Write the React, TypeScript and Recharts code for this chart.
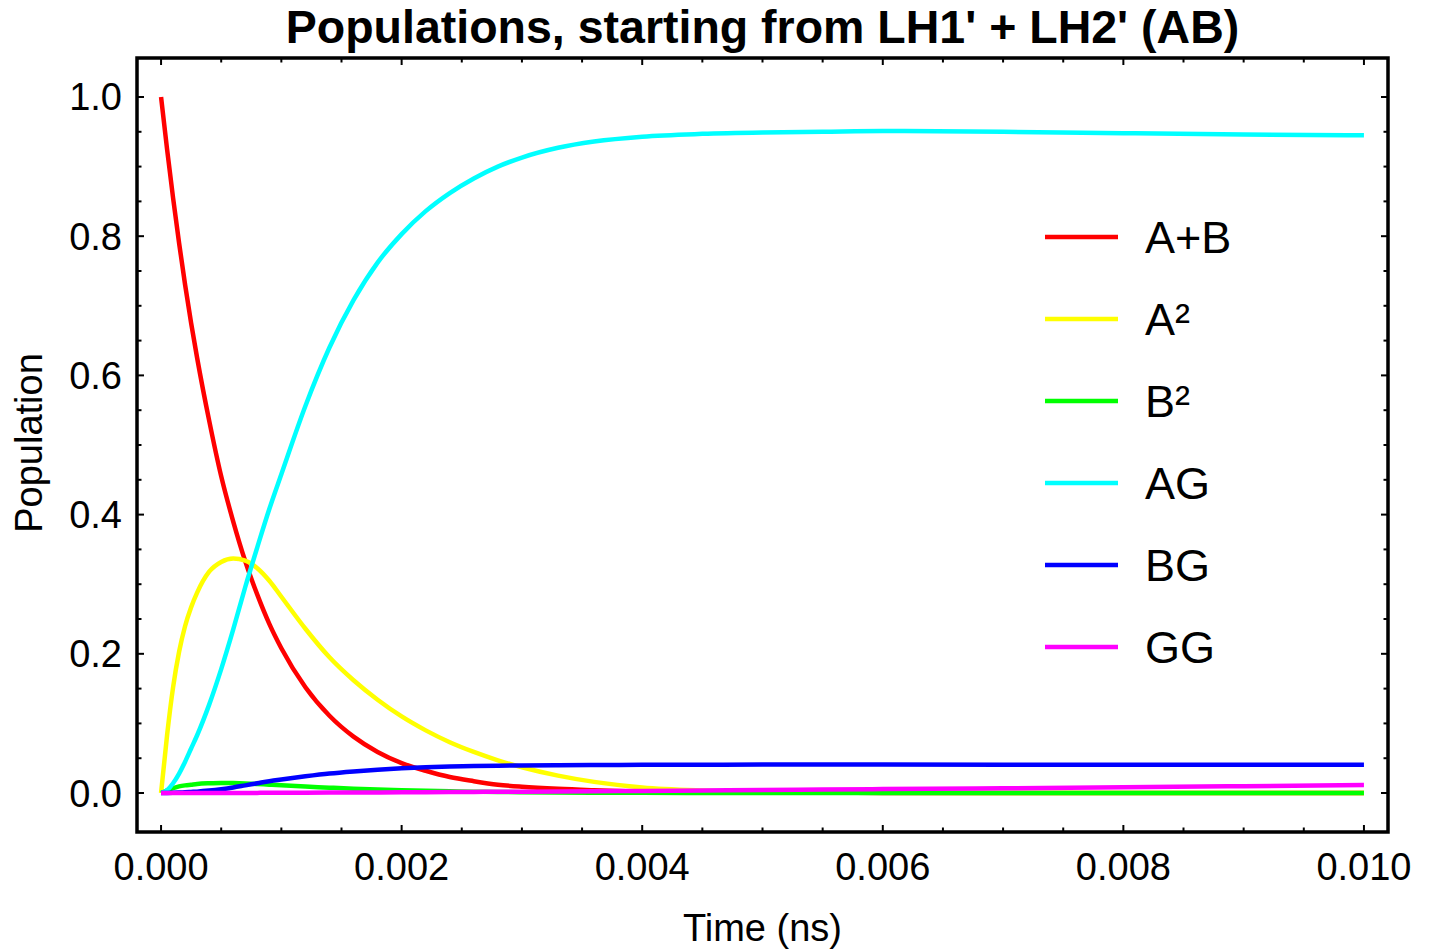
import { LineChart, Line, XAxis, YAxis, ReferenceArea, Legend } from 'recharts';

// time samples (ns) and populations
const times = [
  0, 0.00005, 0.0001, 0.00015, 0.0002, 0.00025, 0.0003, 0.0004, 0.0005, 0.0006, 0.0007, 0.0008, 0.0009,
  0.001, 0.0012, 0.0014, 0.0016, 0.0018, 0.002, 0.0022, 0.0024, 0.0026, 0.0028, 0.003, 0.0033,
  0.0036, 0.004, 0.0045, 0.005, 0.0055, 0.006, 0.007, 0.008, 0.009, 0.01,
];

const abPop = [
  1.0, 0.925, 0.855, 0.79, 0.73, 0.675, 0.625, 0.535, 0.455, 0.39, 0.333, 0.285, 0.243,
  0.208, 0.152, 0.111, 0.081, 0.059, 0.043, 0.032, 0.023, 0.017, 0.012, 0.009, 0.006,
  0.004, 0.002, 0.001, 0.0005, 0.0003, 0.0002, 0.0001, 0, 0, 0,
];

const a2Pop = [
  0, 0.083, 0.152, 0.203, 0.24, 0.267, 0.288, 0.318, 0.332, 0.337, 0.334, 0.323, 0.305,
  0.282, 0.236, 0.195, 0.162, 0.134, 0.11, 0.09, 0.073, 0.059, 0.047, 0.037, 0.025,
  0.016, 0.008, 0.0035, 0.0015, 0.001, 0.0005, 0.0002, 0.0001, 0, 0,
];

const b2Pop = [
  0, 0.004, 0.007, 0.0095, 0.011, 0.012, 0.013, 0.014, 0.0145, 0.0143, 0.0138, 0.013, 0.012,
  0.011, 0.0093, 0.0077, 0.0062, 0.005, 0.004, 0.0032, 0.0025, 0.002, 0.0015, 0.0012, 0.0008,
  0.0005, 0.0003, 0.0001, 0, 0, 0, 0, 0, 0, 0,
];

const agPop = [
  0, 0.004, 0.014, 0.028, 0.045, 0.064, 0.083, 0.127, 0.178, 0.235, 0.296, 0.353, 0.408,
  0.458, 0.556, 0.64, 0.708, 0.762, 0.803, 0.836, 0.862, 0.883, 0.9, 0.913, 0.927,
  0.936, 0.943, 0.947, 0.949, 0.95, 0.951, 0.95, 0.948, 0.946, 0.945,
];

const bgPop = [
  0, 0.0001, 0.0003, 0.0006, 0.001, 0.0015, 0.002, 0.0035, 0.0055, 0.008, 0.011, 0.014, 0.017,
  0.0195, 0.024, 0.028, 0.031, 0.0335, 0.0355, 0.037, 0.038, 0.0387, 0.0392, 0.0396, 0.04,
  0.0403, 0.0405, 0.0407, 0.0408, 0.0408, 0.0408, 0.0407, 0.0406, 0.0405, 0.0405,
];

const ggPop = [
  0, 0, 0, 0, 0, 0, 0, 0.0001, 0.0001, 0.0001, 0.0002, 0.0002, 0.0003,
  0.0003, 0.0004, 0.0006, 0.0007, 0.0009, 0.001, 0.0012, 0.0014, 0.0016, 0.0018, 0.002, 0.0023,
  0.0026, 0.003, 0.0037, 0.0045, 0.005, 0.0056, 0.0068, 0.0082, 0.0098, 0.0115,
];

const seriesKeys = ['ab', 'a2', 'b2', 'ag', 'bg', 'gg'];
const seriesNames = ['A+B', 'A²', 'B²', 'AG', 'BG', 'GG'];
const seriesColors = ['#ff0000', '#ffff00', '#00ff00', '#00ffff', '#0000ff', '#ff00ff'];

const xMajorTicks = [0, 0.002, 0.004, 0.006, 0.008, 0.01];
const xMinorTicks = [
  0, 0.0005, 0.001, 0.0015, 0.002, 0.0025, 0.003, 0.0035, 0.004, 0.0045, 0.005,
  0.0055, 0.006, 0.0065, 0.007, 0.0075, 0.008, 0.0085, 0.009, 0.0095, 0.01,
];
const yMajorTicks = [0, 0.2, 0.4, 0.6, 0.8, 1.0];
const yMinorTicks = [
  0, 0.05, 0.1, 0.15, 0.2, 0.25, 0.3, 0.35, 0.4, 0.45, 0.5,
  0.55, 0.6, 0.65, 0.7, 0.75, 0.8, 0.85, 0.9, 0.95, 1.0,
];

const xDomain = [-0.0002, 0.0102];
const yDomain = [-0.056, 1.056];

const title = "Populations, starting from LH1' + LH2' (AB)";
const xLabel = 'Time (ns)';
const yLabel = 'Population';

const data = times.map((t, i) => ({
  t,
  ab: abPop[i],
  a2: a2Pop[i],
  b2: b2Pop[i],
  ag: agPop[i],
  bg: bgPop[i],
  gg: ggPop[i],
}));

const FONT = '"Liberation Sans", Arial, sans-serif';
const MAJOR_LEN = 7;
const MINOR_LEN = 4.5;

// inward tick marks; labels only on the major ticks of bottom/left
const bottomTick = (p: any) => {
  const v = p.payload.value;
  const major = xMajorTicks.includes(v);
  return (
    <g>
      <line x1={p.x} x2={p.x} y1={p.y} y2={p.y - (major ? MAJOR_LEN : MINOR_LEN)} stroke="#000" strokeWidth={2} />
      {major && (
        <text x={p.x} y={p.y + 48} textAnchor="middle" fontSize={38} fill="#000">
          {v.toFixed(3)}
        </text>
      )}
    </g>
  );
};

const topTick = (p: any) => {
  const major = xMajorTicks.includes(p.payload.value);
  return <line x1={p.x} x2={p.x} y1={p.y} y2={p.y + (major ? MAJOR_LEN : MINOR_LEN)} stroke="#000" strokeWidth={2} />;
};

const leftTick = (p: any) => {
  const v = p.payload.value;
  const major = yMajorTicks.includes(v);
  return (
    <g>
      <line x1={p.x} x2={p.x + (major ? MAJOR_LEN : MINOR_LEN)} y1={p.y} y2={p.y} stroke="#000" strokeWidth={2} />
      {major && (
        <text x={p.x - 15} y={p.y + 13.5} textAnchor="end" fontSize={38} fill="#000">
          {v.toFixed(1)}
        </text>
      )}
    </g>
  );
};

const rightTick = (p: any) => {
  const major = yMajorTicks.includes(p.payload.value);
  return <line x1={p.x} x2={p.x - (major ? MAJOR_LEN : MINOR_LEN)} y1={p.y} y2={p.y} stroke="#000" strokeWidth={2} />;
};

const renderLegend = (props: any) => {
  const items = [...(props.payload || [])].sort(
    (a: any, b: any) => seriesNames.indexOf(a.value) - seriesNames.indexOf(b.value)
  );
  return (
    <svg width={280} height={520} style={{ fontFamily: FONT }}>
      {items.map((item: any, i: number) => (
        <g key={item.value}>
          <line x1={5} x2={78} y1={32 + i * 82} y2={32 + i * 82} stroke={item.color} strokeWidth={4.5} />
          <text x={105} y={48 + i * 82} fontSize={45} fill="#000">
            {item.value}
          </text>
        </g>
      ))}
    </svg>
  );
};

export default function App() {
  return (
    <div style={{ position: 'absolute', left: 0, top: 0, fontFamily: FONT, background: '#fff' }}>
      <LineChart width={1429} height={952} data={data} margin={{ top: 58, right: 41, bottom: 0, left: 0 }}>
        <XAxis
          xAxisId="x"
          dataKey="t"
          type="number"
          domain={xDomain}
          allowDataOverflow
          ticks={xMinorTicks}
          height={120}
          axisLine={false}
          tickLine={false}
          tickSize={0}
          tickMargin={0}
          tick={bottomTick}
          interval={0}
          label={(p: any) => (
            <text
              x={p.viewBox ? p.viewBox.x + p.viewBox.width / 2 : 762.5}
              y={941}
              textAnchor="middle"
              fontSize={38}
              fill="#000"
            >
              {xLabel}
            </text>
          )}
        />
        <XAxis
          xAxisId="xt"
          dataKey="t"
          type="number"
          domain={xDomain}
          allowDataOverflow
          orientation="top"
          mirror
          ticks={xMinorTicks}
          axisLine={false}
          tickLine={false}
          tickSize={0}
          tickMargin={0}
          tick={topTick}
          interval={0}
          label={(p: any) => (
            <text
              x={p.viewBox ? p.viewBox.x + p.viewBox.width / 2 : 762.5}
              y={43}
              textAnchor="middle"
              fontSize={46.5}
              fontWeight="bold"
              fill="#000"
            >
              {title}
            </text>
          )}
        />
        <YAxis
          yAxisId="y"
          type="number"
          domain={yDomain}
          allowDataOverflow
          ticks={yMinorTicks}
          width={137}
          axisLine={false}
          tickLine={false}
          tickSize={0}
          tickMargin={0}
          tick={leftTick}
          interval={0}
          label={() => (
            <text x={42} y={443} transform="rotate(-90 42 443)" textAnchor="middle" fontSize={38} fill="#000">
              {yLabel}
            </text>
          )}
        />
        <YAxis
          yAxisId="yr"
          type="number"
          domain={yDomain}
          allowDataOverflow
          orientation="right"
          mirror
          ticks={yMinorTicks}
          axisLine={false}
          tickLine={false}
          tickSize={0}
          tickMargin={0}
          tick={rightTick}
          interval={0}
        />

        {/* frame */}
        <ReferenceArea
          xAxisId="x"
          yAxisId="y"
          x1={xDomain[0]}
          x2={xDomain[1]}
          y1={yDomain[0]}
          y2={yDomain[1]}
          ifOverflow="visible"
          fill="none"
          fillOpacity={0}
          stroke="#000"
          strokeWidth={3.5}
        />

        {seriesKeys.map((k, i) => (
          <Line
            key={k}
            xAxisId="x"
            yAxisId="y"
            type="monotone"
            dataKey={k}
            name={seriesNames[i]}
            stroke={seriesColors[i]}
            strokeWidth={4.5}
            dot={false}
            activeDot={false}
            isAnimationActive={false}
          />
        ))}

        <Legend
          layout="vertical"
          align="center"
          verticalAlign="middle"
          wrapperStyle={{ left: 1040, top: 205, width: 280, height: 520 }}
          content={renderLegend}
        />
      </LineChart>
    </div>
  );
}
